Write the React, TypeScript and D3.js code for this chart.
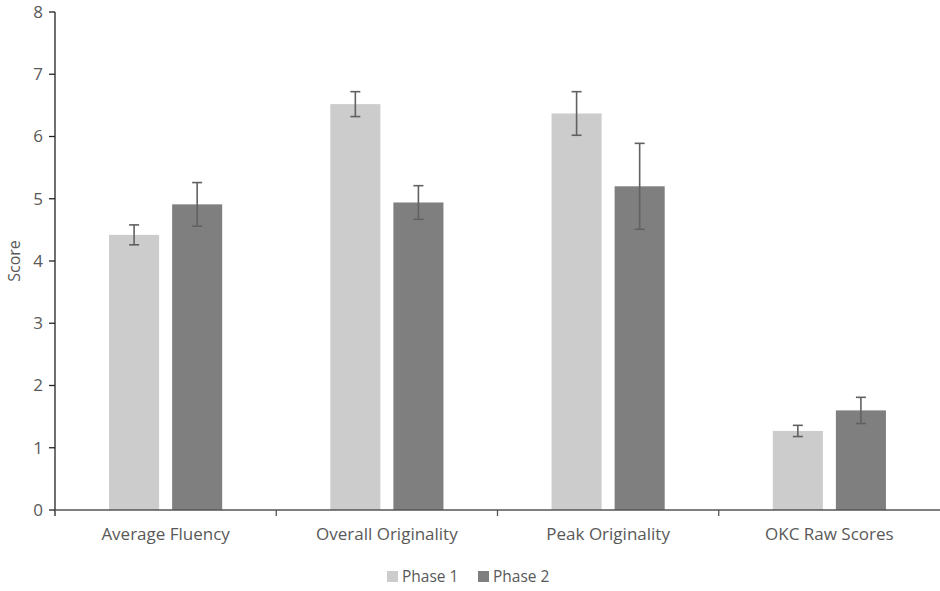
import React from 'react';
import * as d3 from 'd3';

const categories = ['Average Fluency', 'Overall Originality', 'Peak Originality', 'OKC Raw Scores'];
const seriesNames = ['Phase 1', 'Phase 2'];
const phase1 = [4.42, 6.52, 6.37, 1.27];
const phase2 = [4.91, 4.94, 5.2, 1.6];
const phase1Err = [0.16, 0.2, 0.35, 0.09];
const phase2Err = [0.35, 0.27, 0.69, 0.21];
const yTicks = [0, 1, 2, 3, 4, 5, 6, 7, 8];
const colors = ['#cccccc', '#7f7f7f'];

const W = 940;
const H = 591;
const margin = { top: 12, right: 0, bottom: 81, left: 55 };
const font = '"Open Sans", Lato, sans-serif';
const textColor = '#595959';

export default function App() {
  const x = d3.scaleBand().domain(categories).range([margin.left, W - margin.right]);
  const y = d3.scaleLinear().domain([0, 8]).range([H - margin.bottom, margin.top]);
  const inner = d3.scaleBand().domain(seriesNames).range([0, x.bandwidth()]).paddingInner(0.206).paddingOuter(0.857);

  const values = [phase1, phase2];
  const errs = [phase1Err, phase2Err];

  return (
    <svg width={W} height={H} style={{ position: 'absolute', left: 0, top: 0, background: '#fff' }} fontFamily={font}>
      {/* bars */}
      {categories.map((c, i) =>
        seriesNames.map((s, k) => {
          const bx = (x(c) as number) + (inner(s) as number);
          const v = values[k][i];
          return (
            <rect key={c + s} x={bx} y={y(v)} width={inner.bandwidth()} height={y(0) - y(v)} fill={colors[k]} />
          );
        })
      )}
      {/* error bars */}
      {categories.map((c, i) =>
        seriesNames.map((s, k) => {
          const cx = (x(c) as number) + (inner(s) as number) + inner.bandwidth() / 2;
          const v = values[k][i];
          const e = errs[k][i];
          return (
            <g key={'e' + c + s} stroke="#616161" strokeWidth={1.6}>
              <line x1={cx} x2={cx} y1={y(v + e)} y2={y(v - e)} />
              <line x1={cx - 5} x2={cx + 5} y1={y(v + e)} y2={y(v + e)} />
              <line x1={cx - 5} x2={cx + 5} y1={y(v - e)} y2={y(v - e)} />
            </g>
          );
        })
      )}
      {/* y axis */}
      <line x1={margin.left} x2={margin.left} y1={y(8)} y2={y(0) + 6} stroke="#222" strokeWidth={1.3} />
      {yTicks.map((t) => (
        <g key={t}>
          <line x1={margin.left - 6} x2={margin.left} y1={y(t)} y2={y(t)} stroke="#222" strokeWidth={1.3} />
          <text x={margin.left - 12} y={y(t)} dy="0.35em" textAnchor="end" fontSize={17} fill={textColor}>
            {t}
          </text>
        </g>
      ))}
      <text
        transform={`translate(20,${(y(0) + y(8)) / 2}) rotate(-90)`}
        textAnchor="middle"
        fontSize={16}
        fill={textColor}
      >
        Score
      </text>
      {/* x axis */}
      <line x1={margin.left} x2={W} y1={y(0)} y2={y(0)} stroke="#555" strokeWidth={1.5} />
      {categories.map((c, i) =>
        i > 0 ? (
          <line key={'t' + c} x1={x(c)} x2={x(c)} y1={y(0)} y2={y(0) + 6} stroke="#555" strokeWidth={1.3} />
        ) : null
      )}
      {categories.map((c) => (
        <text
          key={'l' + c}
          x={(x(c) as number) + x.bandwidth() / 2}
          y={y(0) + 30}
          textAnchor="middle"
          fontSize={17}
          fill={textColor}
        >
          {c}
        </text>
      ))}
      {/* legend */}
      {seriesNames.map((s, k) => (
        <g key={'lg' + s} transform={`translate(387,571)`}>
          <rect x={k * 91} y={0} width={11} height={11} fill={colors[k]} />
          <text x={k * 91 + 15} y={5.5} dy="0.35em" fontSize={15.5} fill={textColor}>
            {s}
          </text>
        </g>
      ))}
    </svg>
  );
}
